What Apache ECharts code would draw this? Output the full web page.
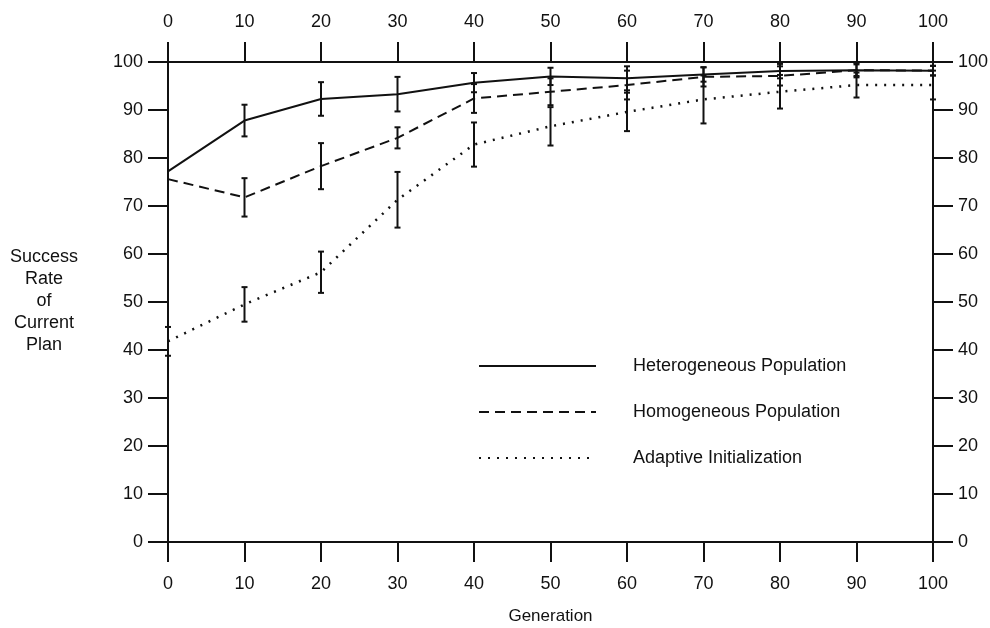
<!DOCTYPE html>
<html>
<head>
    <meta charset="utf-8">
    <script src="https://cdn.jsdelivr.net/npm/echarts@6/dist/echarts.min.js"></script>
</head>
<body style="margin:0;background:#fff;">
<div id="main" style="width:990px;height:628px;"></div>

<script>
    // generations on the x axis
    var generations = [0, 10, 20, 30, 40, 50, 60, 70, 80, 90, 100];

    // success rate (%), with error bar half-widths
    var heteroRate = [77.2, 87.8, 92.3, 93.3, 95.7, 97.0, 96.6, 97.4, 98.1, 98.3, 98.2];
    var heteroErr  = [0, 3.3, 3.5, 3.6, 2.0, 1.8, 2.5, 1.5, 1.5, 1.2, 1.0];
    var homoRate   = [75.6, 71.8, 78.3, 84.2, 92.4, 93.8, 95.2, 96.9, 97.1, 98.3, 98.2];
    var homoErr    = [0, 4.0, 4.8, 2.2, 3.0, 2.8, 3.0, 2.0, 2.0, 1.5, 1.0];
    var adaptRate  = [41.8, 49.5, 56.2, 71.3, 82.8, 86.6, 89.6, 92.2, 93.8, 95.2, 95.2];
    var adaptErr   = [3.0, 3.6, 4.3, 5.8, 4.6, 4.0, 4.0, 5.0, 3.5, 2.6, 3.0];

    var seriesNames = ['Heterogeneous Population', 'Homogeneous Population', 'Adaptive Initialization'];

    var font = 'Liberation Sans, Arial, Helvetica, sans-serif';
    var black = '#111';

    function pairs(values) {
        return generations.map(function (g, i) { return [g, values[i]]; });
    }

    function errorBars(name, values, errs) {
        var data = [];
        for (var i = 0; i < generations.length; i++) {
            if (errs[i] > 0) {
                data.push([generations[i], values[i] - errs[i], values[i] + errs[i]]);
            }
        }
        return {
            type: 'custom',
            name: name + ' error',
            data: data,
            z: 3,
            silent: true,
            encode: {x: 0, y: [1, 2]},
            renderItem: function (params, api) {
                var lo = api.coord([api.value(0), api.value(1)]);
                var hi = api.coord([api.value(0), api.value(2)]);
                var w = 3;
                var style = {stroke: black, lineWidth: 2};
                return {
                    type: 'group',
                    children: [
                        {type: 'line', shape: {x1: lo[0], y1: lo[1], x2: hi[0], y2: hi[1]}, style: style},
                        {type: 'line', shape: {x1: lo[0] - w, y1: lo[1], x2: lo[0] + w, y2: lo[1]}, style: style},
                        {type: 'line', shape: {x1: hi[0] - w, y1: hi[1], x2: hi[0] + w, y2: hi[1]}, style: style}
                    ]
                };
            }
        };
    }

    function lineSeries(name, values, dash, width) {
        return {
            name: name,
            type: 'line',
            data: pairs(values),
            symbol: 'none',
            z: 4,
            lineStyle: {color: black, width: width, type: dash},
            itemStyle: {color: black}
        };
    }

    function axisDef(pos, margin) {
        return {
            type: 'value',
            position: pos,
            min: 0, max: 100, interval: 10,
            axisLine: {show: true, onZero: false, lineStyle: {color: black, width: 2}},
            axisTick: {show: true, length: 20, lineStyle: {color: black, width: 2}},
            axisLabel: {margin: margin, color: black, fontSize: 18, fontFamily: font},
            splitLine: {show: false}
        };
    }

    var myChart = echarts.init(document.getElementById('main'));

    var bottomX = axisDef('bottom', 33);
    bottomX.name = 'Generation';
    bottomX.nameLocation = 'middle';
    bottomX.nameGap = 66;
    bottomX.nameTextStyle = {color: black, fontSize: 17, fontFamily: font};

    var option = {
        backgroundColor: '#fff',
        animation: false,
        grid: {left: 168, right: 57, top: 62, bottom: 86, outerBoundsMode: 'none', containLabel: false},
        xAxis: [bottomX, axisDef('top', 31)],
        yAxis: [axisDef('left', 25), axisDef('right', 25)],
        legend: {
            data: seriesNames,
            orient: 'vertical',
            left: 473,
            top: 352,
            itemWidth: 117,
            itemHeight: 14,
            itemGap: 28,
            itemStyle: {opacity: 0},
            textStyle: {color: black, fontSize: 18, fontFamily: font, padding: [0, 0, 0, 32]}
        },
        graphic: [{
            type: 'text',
            left: 10,
            top: 246,
            style: {
                text: 'Success\nRate\nof\nCurrent\nPlan',
                textAlign: 'center',
                font: '18px ' + font,
                fill: black,
                lineHeight: 22
            }
        }],
        series: [
            lineSeries(seriesNames[0], heteroRate, 'solid', 2),
            lineSeries(seriesNames[1], homoRate, [10, 6], 2),
            lineSeries(seriesNames[2], adaptRate, [2, 7], 2.5),
            errorBars(seriesNames[0], heteroRate, heteroErr),
            errorBars(seriesNames[1], homoRate, homoErr),
            errorBars(seriesNames[2], adaptRate, adaptErr)
        ]
    };
    myChart.setOption(option);
</script>
</body>
</html>
